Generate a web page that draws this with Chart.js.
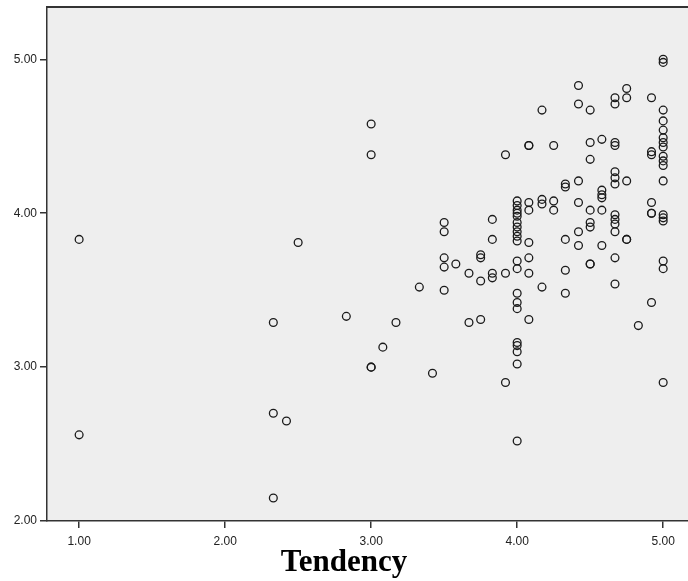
<!DOCTYPE html>
<html>
<head>
<meta charset="utf-8">
<script src="https://cdn.jsdelivr.net/npm/chart.js@4"></script>
<style>
html,body{margin:0;padding:0;background:#ffffff;}
#wrap{width:688px;height:581px;position:relative;}
</style>
</head>
<body>
<div id="wrap"><canvas id="c" width="688" height="581"></canvas></div>
<script>
// Tendency (x) and outcome (y) values
const tendency = [
  1.00, 1.00,
  2.33, 2.33, 2.42, 2.33, 2.50, 2.83,
  3.00, 3.00, 3.00, 3.00, 3.08, 3.17, 3.33, 3.42,
  3.50, 3.50, 3.50, 3.50, 3.50, 3.58, 3.67, 3.67,
  3.75, 3.75, 3.75, 3.75, 3.83, 3.83, 3.83, 3.83,
  3.92, 3.92, 3.92,
  4.00, 4.00, 4.00, 4.00, 4.00, 4.00, 4.00, 4.00, 4.00, 4.00,
  4.00, 4.00, 4.00, 4.00, 4.00, 4.00, 4.00, 4.00, 4.00, 4.00,
  4.08, 4.08, 4.08, 4.08, 4.08, 4.08, 4.08, 4.08,
  4.17, 4.17, 4.17, 4.17,
  4.25, 4.25, 4.25,
  4.33, 4.33, 4.33, 4.33, 4.33,
  4.42, 4.42, 4.42, 4.42, 4.42, 4.42,
  4.50, 4.50, 4.50, 4.50, 4.50, 4.50, 4.50, 4.50,
  4.58, 4.58, 4.58, 4.58, 4.58, 4.58,
  4.67, 4.67, 4.67, 4.67, 4.67, 4.67, 4.67, 4.67, 4.67, 4.67, 4.67, 4.67, 4.67,
  4.75, 4.75, 4.75, 4.75, 4.75,
  4.83,
  4.92, 4.92, 4.92, 4.92, 4.92, 4.92, 4.92,
  5.00, 5.00, 5.00, 5.00, 5.00, 5.00, 5.00, 5.00, 5.00,
  5.00, 5.00, 5.00, 5.00, 5.00, 5.00, 5.00, 5.00, 5.00
];
const outcome = [
  3.83, 2.56,
  3.29, 2.70, 2.65, 2.15, 3.81, 3.33,
  4.58, 4.38, 3.00, 3.00, 3.13, 3.29, 3.52, 2.96,
  3.50, 3.94, 3.88, 3.71, 3.65, 3.67, 3.61, 3.29,
  3.73, 3.71, 3.56, 3.31, 3.96, 3.83, 3.61, 3.58,
  4.38, 3.61, 2.90,
  4.08, 4.05, 4.02, 4.00, 3.98, 3.94, 3.91, 3.88, 3.85, 3.82,
  3.69, 3.64, 3.48, 3.42, 3.38, 3.16, 3.14, 3.10, 3.02, 2.52,
  4.44, 4.44, 4.07, 4.02, 3.81, 3.71, 3.61, 3.31,
  4.67, 4.09, 4.06, 3.52,
  4.44, 4.08, 4.02,
  4.19, 4.17, 3.83, 3.63, 3.48,
  4.83, 4.71, 4.21, 4.07, 3.88, 3.79,
  4.67, 4.46, 4.35, 4.02, 3.94, 3.91, 3.67, 3.67,
  4.48, 4.15, 4.12, 4.10, 4.02, 3.79,
  4.75, 4.71, 4.46, 4.44, 4.27, 4.23, 4.19, 3.99, 3.96, 3.93, 3.88, 3.71, 3.54,
  4.81, 4.75, 4.21, 3.83, 3.83,
  3.27,
  4.75, 4.40, 4.38, 4.07, 4.00, 4.00, 3.42,
  5.00, 4.98, 4.67, 4.60, 4.54, 4.49, 4.46, 4.43, 4.37,
  4.34, 4.31, 4.21, 3.99, 3.97, 3.95, 3.69, 3.64, 2.90
];
const xTicks = [1, 2, 3, 4, 5];
const yTicks = [2, 3, 4, 5];
const xTitle = 'Tendency';

const points = tendency.map((x, i) => ({ x: x, y: outcome[i] }));

const bgPlugin = {
  id: 'plotBg',
  beforeDraw(chart) {
    const { ctx, chartArea: { left, top, right, bottom } } = chart;
    ctx.save();
    ctx.fillStyle = '#eeeeee';
    ctx.fillRect(left, top, right - left, bottom - top);
    ctx.strokeStyle = '#333333';
    ctx.lineWidth = 2;
    ctx.beginPath();
    ctx.moveTo(left, top);
    ctx.lineTo(right, top);
    ctx.stroke();
    ctx.restore();
  }
};

new Chart(document.getElementById('c'), {
  type: 'scatter',
  data: {
    datasets: [{
      data: points,
      pointRadius: 3.9,
      pointHoverRadius: 3.9,
      pointBorderWidth: 1.3,
      borderColor: '#1a1a1a',
      backgroundColor: 'rgba(0,0,0,0)',
      pointBackgroundColor: 'rgba(0,0,0,0)'
    }]
  },
  options: {
    responsive: false,
    animation: false,
    devicePixelRatio: 1,
    layout: { autoPadding: false, padding: { top: 7, right: 0, left: 0, bottom: 0 } },
    plugins: {
      legend: { display: false },
      tooltip: { enabled: false },
      title: {
        display: true,
        position: 'bottom',
        text: xTitle,
        font: { family: 'Liberation Serif, Times New Roman, serif', size: 31, weight: 'bold', lineHeight: 1.16 },
        color: '#000000',
        padding: { top: 0, bottom: 0 }
      }
    },
    scales: {
      x: {
        type: 'linear',
        min: 0.78,
        max: 5.17,
        afterBuildTicks: s => { s.ticks = xTicks.map(v => ({ value: v })); },
        afterFit: s => { s.height = 24; s.paddingLeft = 0; s.paddingRight = 0; },
        ticks: {
          callback: v => Number(v).toFixed(2),
          font: { family: 'Liberation Sans, Arial, sans-serif', size: 12 },
          color: '#222222',
          padding: 6,
          maxRotation: 0
        },
        grid: { drawOnChartArea: false, drawTicks: true, tickLength: 7, color: '#333333', lineWidth: 1.5 },
        border: { display: true, color: '#333333', width: 1.5 }
      },
      y: {
        type: 'linear',
        min: 2,
        max: 5.34,
        afterBuildTicks: s => { s.ticks = yTicks.map(v => ({ value: v })); },
        afterFit: s => { s.width = 47; s.paddingTop = 0; s.paddingBottom = 0; },
        ticks: {
          callback: v => Number(v).toFixed(2),
          font: { family: 'Liberation Sans, Arial, sans-serif', size: 12 },
          color: '#222222',
          padding: 3
        },
        grid: { drawOnChartArea: false, drawTicks: true, tickLength: 7, color: '#333333', lineWidth: 1.5 },
        border: { display: true, color: '#333333', width: 1.5 }
      }
    }
  },
  plugins: [bgPlugin]
});
</script>
</body>
</html>
